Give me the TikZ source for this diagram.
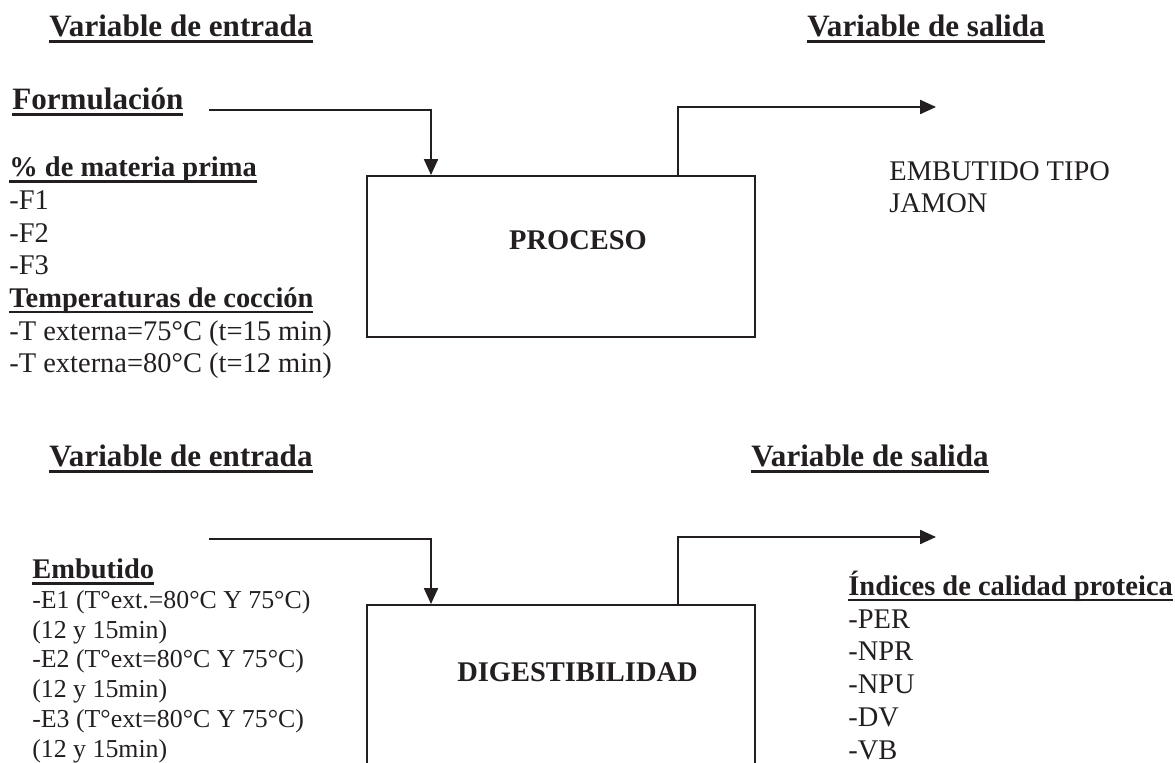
\documentclass[tikz,border=0pt]{standalone}
\usepackage{fontspec}
\setmainfont{Liberation Serif}
\usetikzlibrary{arrows.meta,positioning}
\definecolor{tinta}{RGB}{35,31,32}
\newcommand{\subrayado}[1]{\setbox0\hbox{#1}\rlap{\rule[-0.2em]{\wd0}{0.09em}}\box0}

\begin{document}
\begin{tikzpicture}[
  every node/.style={text=tinta, inner sep=0pt},
  titulo/.style={font=\fontsize{17.7}{20}\selectfont\bfseries, anchor=base west},
  lista/.style={font=\fontsize{16.2}{18.6}\selectfont, align=left, anchor=base west},
  listab/.style={font=\fontsize{14.7}{16.9}\selectfont, align=left, anchor=base west},
  rotulo/.style={font=\fontsize{16.2}{18}\selectfont\bfseries},
  caja/.style={draw=tinta, line width=1.2pt, anchor=north west, minimum width=7.76cm},
  linea/.style={draw=tinta, line width=0.9pt},
  flecha/.style={linea, -{Triangle[length=9pt,width=8pt]}}]

\useasboundingbox (0,0) rectangle (23.5,15.24);
\clip (0,0) rectangle (23.5,15.24);

% parte superior (listas: posicion = linea base de la ultima linea)
\node[titulo] (entrada1) at (0.98,14.5) {\subrayado{Variable de entrada}};
\node[titulo] (salida1)  at (16.14,14.5) {\subrayado{Variable de salida}};
\node[titulo] (formul)   at (0.24,13.04) {\subrayado{Formulación}};

\node[lista] (materia) at (0.18,7.78) {\subrayado{\bfseries \% de materia prima}\\-F1\\-F2\\-F3\\
  \subrayado{\bfseries Temperaturas de cocción}\\-T externa=75°C (t=15 min)\\-T externa=80°C (t=12 min)};

\node[caja, minimum height=3.22cm] (proc) at (7.32,11.74) {};
\node[rotulo] at ([shift={(4.24,-1.30)}]proc.north west) {PROCESO};

\node[lista] (embjam) at (17.78,10.98) {EMBUTIDO TIPO\\JAMON};

\coordinate (in1)  at (4.18,13.04);
\coordinate (e1)   at ([xshift=1.30cm]proc.north west);
\coordinate (s1)   at ([xshift=6.24cm]proc.north west);
\coordinate (out1) at (18.72,13.1);
\draw[flecha] (in1) -| (e1);
\draw[flecha] (s1) |- (out1);

% parte inferior
\node[titulo] (entrada2) at (0.98,5.9) {\subrayado{Variable de entrada}};
\node[titulo] (salida2)  at (15.02,5.9) {\subrayado{Variable de salida}};

\node[listab] (embut) at (0.64,0.1) {{\fontsize{16.2}{16.9}\selectfont\subrayado{\bfseries Embutido}}\\
  -E1 (T°ext.=80°C Y 75°C)\\(12 y 15min)\\-E2 (T°ext=80°C Y 75°C)\\(12 y 15min)\\
  -E3 (T°ext=80°C Y 75°C)\\(12 y 15min)};

\node[caja, minimum height=4.5cm] (digest) at (7.32,3.16) {};
\node[rotulo] at ([shift={(4.23,-1.36)}]digest.north west) {DIGESTIBILIDAD};

\node[lista] (indices) at (16.96,0.06) {\subrayado{\bfseries Índices de calidad proteica}\\
  -PER\\-NPR\\-NPU\\-DV\\-VB};

\coordinate (in2)  at (4.18,4.46);
\coordinate (e2)   at ([xshift=1.30cm]digest.north west);
\coordinate (s2)   at ([xshift=6.24cm]digest.north west);
\coordinate (out2) at (18.72,4.5);
\draw[flecha] (in2) -| (e2);
\draw[flecha] (s2) |- (out2);
\end{tikzpicture}
\end{document}
